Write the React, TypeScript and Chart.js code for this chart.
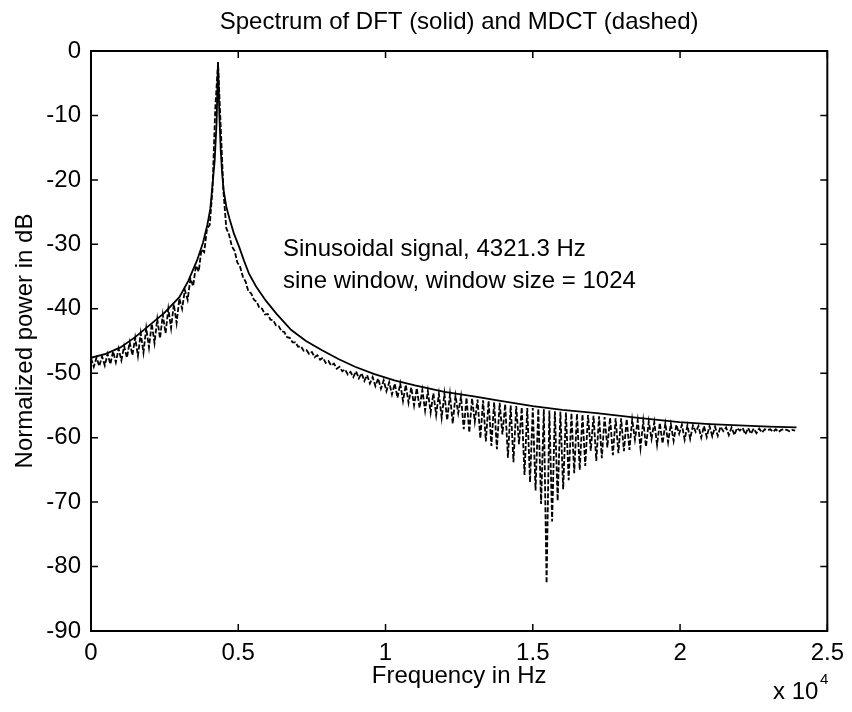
import React, { useEffect, useRef } from "react";
import { Chart, registerables } from "chart.js";

Chart.register(...registerables);

const FONT = '"Liberation Sans", Arial, Helvetica, sans-serif';

const titleText = "Spectrum of DFT (solid) and MDCT (dashed)";
const xAxisLabel = "Frequency in Hz";
const yAxisLabel = "Normalized power in dB";
const noteLines = ["Sinusoidal signal, 4321.3 Hz", "sine window, window size = 1024"];
const xExponentBase = "x 10";
const xExponentPower = "4";

const xTickValues = [0, 5000, 10000, 15000, 20000, 25000];
const xTickLabels = ["0", "0.5", "1", "1.5", "2", "2.5"];
const yTickValues = [0, -10, -20, -30, -40, -50, -60, -70, -80, -90];

// DFT spectrum (solid), frequency in Hz / power in dB
const dftFreq = [
  0, 500, 1000, 1500, 2000, 2500, 3000, 3300, 3600, 3800, 3950, 4050, 4130, 4200, 4265,
  4312.5, 4359, 4406, 4453, 4500, 4600, 4700, 4850, 5030, 5200, 5360, 5600, 5930, 6300,
  6800, 7300, 7830, 8400, 8965, 9600, 10300, 11000, 12000, 13000, 13800, 15000, 16000,
  17170, 18500, 19975, 21000, 22000, 23000, 23953,
];
const dftDb = [
  -47.6, -47.0, -46.0, -44.4, -42.5, -40.6, -38.2, -35.7, -32.5, -29.8, -27.0, -24.5, -20.5, -17.0, -11.0,
  -1.7, -10.0, -15.5, -19.0, -21.5, -24.3, -26.0, -28.3, -30.4, -32.6, -34.5, -36.5, -38.7, -40.8,
  -43.3, -45.0, -46.4, -47.8, -49.0, -50.1, -51.1, -51.9, -52.9, -53.6, -54.2, -55.1, -55.7,
  -56.2, -56.9, -57.6, -57.9, -58.1, -58.3, -58.4,
];

// MDCT spectrum (dashed), one value per 93.75 Hz bin
const mdctBinHz = 93.75;
const mdctDb = [
  -47.7, -49.0, -47.6, -48.9, -47.4, -48.8, -47.0, -48.6, -46.6, -48.3, -46.2, -48.0, -45.8, -47.6, -45.2, -47.2,
  -44.5, -47.3, -43.8, -46.8, -43.0, -46.0, -42.3, -45.3, -41.6, -44.6, -40.9, -43.8, -40.0, -43.0, -39.3, -42.2,
  -38.4, -40.0, -37.1, -38.6, -35.3, -36.5, -33.3, -34.2, -30.8, -31.2, -27.6, -27.0, -21.5, -9.0, -1.9, -12.0,
  -22.0, -27.5, -28.5, -30.3, -31.0, -32.8, -33.5, -35.0, -35.8, -37.3, -37.6, -38.6, -38.9, -39.9, -40.0, -40.9,
  -40.8, -41.7, -41.8, -42.6, -42.7, -43.5, -43.6, -44.4, -44.5, -45.2, -45.2, -45.9, -45.8, -46.5, -46.4, -47.0,
  -46.7, -47.5, -47.2, -47.9, -47.6, -48.4, -48.1, -48.8, -48.5, -49.3, -49.0, -49.7, -49.4, -50.2, -49.8, -50.6,
  -49.7, -50.8, -50.0, -51.2, -50.3, -51.6, -50.6, -52.0, -50.8, -52.4, -51.1, -52.8, -51.4, -53.3, -51.6, -53.8,
  -51.6, -54.3, -51.8, -54.6, -52.2, -55.0, -52.3, -55.4, -52.6, -55.8, -52.8, -56.1, -53.1, -56.5, -53.2, -56.9,
  -53.2, -57.3, -53.3, -57.8, -53.5, -56.2, -53.6, -58.7, -53.8, -59.2, -53.9, -57.5, -54.1, -60.1, -54.2, -60.6,
  -54.3, -61.3, -54.5, -61.8, -54.6, -59.5, -54.8, -63.1, -55.0, -63.8, -55.1, -61.0, -55.3, -65.8, -55.4, -66.9,
  -55.4, -68.2, -55.5, -70.3, -55.6, -82.6, -55.8, -73.0, -55.9, -69.8, -56.0, -68.0, -56.1, -66.6, -56.2, -65.5,
  -56.3, -65.0, -56.4, -64.4, -56.5, -62.0, -56.6, -63.6, -56.7, -63.2, -56.8, -61.5, -56.9, -62.7, -57.0, -62.4,
  -57.0, -62.1, -57.1, -61.9, -57.2, -60.3, -57.3, -61.6, -57.4, -61.4, -57.5, -60.2, -57.6, -61.1, -57.7, -60.9,
  -57.8, -60.7, -57.9, -60.5, -58.0, -59.4, -58.0, -60.3, -58.1, -60.2, -58.1, -59.1, -58.2, -60.0, -58.2, -59.9,
  -58.2, -59.8, -58.3, -59.7, -58.3, -59.0, -58.4, -59.6, -58.4, -59.6, -58.5, -58.9, -58.5, -59.5, -58.5, -59.4,
  -58.6, -59.3, -58.6, -59.2, -58.7, -58.8, -58.7, -59.1, -58.7, -59.1, -58.8, -58.7, -58.8, -59.0, -58.8, -58.9,
];

const framePlugin = {
  id: "matlabFrame",
  beforeDraw(chart: any) {
    const { ctx, width, height } = chart;
    ctx.save();
    ctx.fillStyle = "#ffffff";
    ctx.fillRect(0, 0, width, height);
    ctx.restore();
  },
  afterDatasetsDraw(chart: any) {
    const { ctx, chartArea, scales } = chart;
    const { left, right, top, bottom } = chartArea;
    const xs = scales.x;
    const ys = scales.y;
    ctx.save();
    ctx.strokeStyle = "#000";
    ctx.lineWidth = 2;
    ctx.strokeRect(left, top, right - left, bottom - top);
    ctx.lineWidth = 1.5;
    const tl = 7;
    ctx.beginPath();
    xs.ticks.forEach((t: any) => {
      const px = xs.getPixelForValue(t.value);
      ctx.moveTo(px, bottom);
      ctx.lineTo(px, bottom - tl);
      ctx.moveTo(px, top);
      ctx.lineTo(px, top + tl);
    });
    ys.ticks.forEach((t: any) => {
      const py = ys.getPixelForValue(t.value);
      ctx.moveTo(left, py);
      ctx.lineTo(left + tl, py);
      ctx.moveTo(right, py);
      ctx.lineTo(right - tl, py);
    });
    ctx.stroke();

    ctx.fillStyle = "#000";
    ctx.textAlign = "left";
    ctx.textBaseline = "alphabetic";
    ctx.font = `24px ${FONT}`;
    ctx.fillText(noteLines[0], 283, 256);
    ctx.fillText(noteLines[1], 283, 288);
    ctx.fillText(xExponentBase, 773, 699);
    ctx.font = `15px ${FONT}`;
    ctx.fillText(xExponentPower, 820, 684);
    ctx.restore();
  },
};

export default function App() {
  const canvasRef = useRef<HTMLCanvasElement | null>(null);

  useEffect(() => {
    const canvas = canvasRef.current;
    if (!canvas) return;
    const font = { family: FONT, size: 24, weight: "normal" as const };

    const chart = new Chart(canvas, {
      type: "line",
      data: {
        datasets: [
          {
            label: "MDCT",
            data: mdctDb.map((v, i) => ({ x: i * mdctBinHz, y: v })),
            borderColor: "#000",
            borderWidth: 1.8,
            borderDash: [5, 2],
            pointRadius: 0,
            fill: false,
            tension: 0,
          },
          {
            label: "DFT",
            data: dftFreq.map((f, i) => ({ x: f, y: dftDb[i] })),
            borderColor: "#000",
            borderWidth: 1.8,
            pointRadius: 0,
            fill: false,
            tension: 0,
          },
        ],
      },
      options: {
        responsive: false,
        animation: false,
        devicePixelRatio: 1,
        layout: { padding: { left: 0, top: 0, right: 20, bottom: 0 } },
        plugins: {
          legend: { display: false },
          tooltip: { enabled: false },
          title: {
            display: true,
            text: titleText,
            color: "#000",
            font,
            padding: { top: 8, bottom: 14.2 },
            fullSize: false,
          },
        },
        scales: {
          x: {
            type: "linear",
            min: 0,
            max: 25000,
            afterBuildTicks: (s: any) => {
              s.ticks = xTickValues.map((v) => ({ value: v }));
            },
            afterFit: (s: any) => {
              s.height = 81;
            },
            ticks: {
              callback: (_v: any, i: number) => xTickLabels[i],
              color: "#000",
              font,
              padding: 8,
              maxRotation: 0,
              autoSkip: false,
            },
            grid: { display: false, drawTicks: false },
            border: { display: false },
            title: {
              display: true,
              text: xAxisLabel,
              color: "#000",
              font,
              padding: { top: 0, bottom: 21.6 },
            },
          },
          y: {
            type: "linear",
            min: -90,
            max: 0,
            afterBuildTicks: (s: any) => {
              s.ticks = yTickValues.map((v) => ({ value: v }));
            },
            afterFit: (s: any) => {
              s.width = 91;
            },
            ticks: {
              color: "#000",
              font,
              padding: 10,
              autoSkip: false,
            },
            grid: { display: false, drawTicks: false },
            border: { display: false },
            title: {
              display: true,
              text: yAxisLabel,
              color: "#000",
              font,
              padding: { top: 10.6, bottom: 0 },
            },
          },
        },
      },
      plugins: [framePlugin],
    } as any);

    return () => chart.destroy();
  }, []);

  return (
    <div style={{ position: "fixed", left: 0, top: 0, width: 852, height: 712, background: "#fff" }}>
      <canvas ref={canvasRef} width={852} height={712} style={{ display: "block" }} />
    </div>
  );
}
